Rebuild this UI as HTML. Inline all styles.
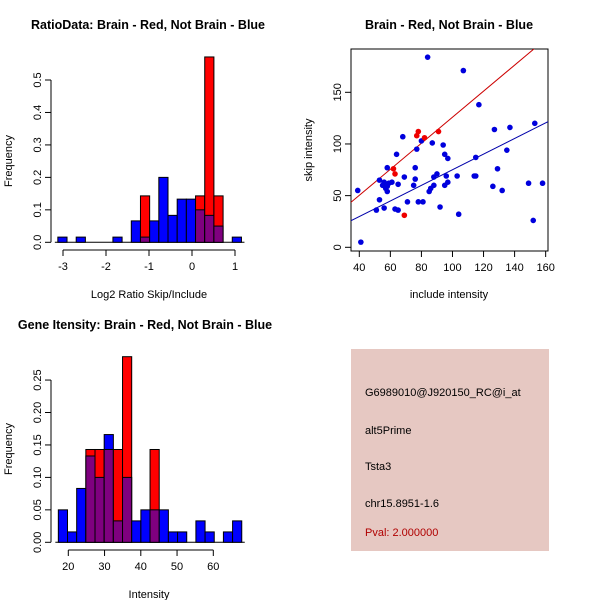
<!DOCTYPE html>
<html><head><meta charset="utf-8"><style>
body{margin:0;background:#fff}
svg{display:block;font-family:"Liberation Sans",Arial,sans-serif}
</style></head><body>
<svg id="s" width="600" height="600" xmlns="http://www.w3.org/2000/svg">
<rect width="600" height="600" fill="#fff"/>
<text x="148" y="29" text-anchor="middle" font-size="12.5" font-weight="bold">RatioData: Brain - Red, Not Brain - Blue</text>
<text x="449" y="29" text-anchor="middle" font-size="12.5" font-weight="bold">Brain - Red, Not Brain - Blue</text>
<text x="145" y="329" text-anchor="middle" font-size="12.5" font-weight="bold">Gene Itensity: Brain - Red, Not Brain - Blue</text>
<text x="149" y="298" text-anchor="middle" font-size="11">Log2 Ratio Skip/Include</text>
<text transform="translate(12,161) rotate(-90)" text-anchor="middle" font-size="11">Frequency</text>
<text x="449" y="298" text-anchor="middle" font-size="11">include intensity</text>
<text transform="translate(312,150) rotate(-90)" text-anchor="middle" font-size="11">skip intensity</text>
<text x="149" y="598" text-anchor="middle" font-size="11">Intensity</text>
<text transform="translate(12,449) rotate(-90)" text-anchor="middle" font-size="11">Frequency</text>
<g>
<rect x="351" y="349" width="198" height="202" fill="#e6c8c2"/>
<text x="365" y="396" font-size="11">G6989010@J920150_RC@i_at</text>
<text x="365" y="434" font-size="11">alt5Prime</text>
<text x="365" y="470" font-size="11">Tsta3</text>
<text x="365" y="507" font-size="11">chr15.8951-1.6</text>
<text x="365" y="536" font-size="11" fill="#b00000">Pval: 2.000000</text>
</g>
<g id="h1"></g><g id="h2"></g><g id="sc"></g>
</svg>
<script>
// Ratio histogram
const ratioBinStart = -3.12, ratioBinWidth = 0.2135;
const ratioBlue = [0.016,0,0.016,0,0,0,0.016,0,0.066,0.016,0.066,0.2,0.083,0.133,0.133,0.1,0.083,0.05,0,0.016];
const ratioRed  = [0,0,0,0,0,0,0,0,0,0.143,0,0,0,0,0,0.143,0.571,0.143,0,0];
const ratioXTicks = [-3,-2,-1,0,1];
const ratioYTicks = [0,0.1,0.2,0.3,0.4,0.5];
// Intensity histogram
const intBinStart = 17.25, intBinWidth = 2.53;
const intBlue = [0.05,0.016,0.083,0.133,0.1,0.166,0.033,0.1,0.033,0.05,0.05,0.05,0.016,0.016,0,0.033,0.016,0,0.016,0.033];
const intRed  = [0,0,0,0.143,0.143,0.143,0.143,0.286,0,0,0.143,0,0,0,0,0,0,0,0,0];
const intXTicks = [20,30,40,50,60];
const intYTicks = [0,0.05,0.10,0.15,0.20,0.25];
const intYLabels = ["0.00","0.05","0.10","0.15","0.20","0.25"];
// Scatter
const blueX = [39,41,51,53,53,55,56,56,57,58,58,58,59,61,63,65,64,65,68,69,71,75,76,76,77,78,80,81,85,86,87,88,88,90,92,94,95,95,96,97,97,103,104,107,84,114,115,115,117,126,127,129,132,135,137,149,152,153,158];
const blueY = [55,5,36,46,65,60,63,38,57,59,54,77,62,63,37,36,90,61,107,68,44,60,66,77,95,44,103,44,54,57,101,60,68,71,39,99,90,60,69,86,63,69,32,171,184,69,69,87,138,59,114,76,55,94,116,62,26,120,62];
const redX = [62,63,69,77,78,82,91];
const redY = [76,71,31,108,112,106,112];
const fitIntercept = [-0.1,-0.5];
const fitSlope = [1.26,0.756];
const scXTicks = [40,60,80,100,120,140,160];
const scYTicks = [0,50,100,150];

const NS="http://www.w3.org/2000/svg";
function mk(p,t,a){const e=document.createElementNS(NS,t);for(const k in a)e.setAttribute(k,a[k]);p.appendChild(e);return e;}

function hist(g,x0,y0,pxU,pyU,start,w,blue,red,xt,yt,yl,axisY,axisX,ax0,ax1){
  const X=v=>x0+(v-ax0)*pxU, Y=v=>y0-v*pyU;
  mk(g,'line',{x1:X(start)-3,x2:X(start+w*blue.length)+3,y1:y0,y2:y0,stroke:'#000'});
  for(let i=0;i<blue.length;i++){
    const b=blue[i],r=red[i],xa=X(start+i*w),xb=X(start+(i+1)*w);
    const hi=Math.max(b,r),lo=Math.min(b,r);
    if(hi>0){
      const e=mk(g,'rect',{x:xa,y:Y(hi),width:xb-xa,height:y0-Y(hi),fill:b>=r?'#0000ff':'#ff0000',stroke:'#000','stroke-width':1});
      
      
    }
    if(lo>0){
      const e=mk(g,'rect',{x:xa,y:Y(lo),width:xb-xa,height:y0-Y(lo),fill:'#7f007f',stroke:'#000','stroke-width':1});
      
      
    }
  }
  mk(g,'line',{x1:axisY,x2:axisY,y1:Y(yt[0]),y2:Y(yt[yt.length-1]),stroke:'#000'});
  yt.forEach((v,i)=>{mk(g,'line',{x1:axisY-6,x2:axisY,y1:Y(v),y2:Y(v),stroke:'#000'});
    const t=mk(g,'text',{transform:`translate(${axisY-10},${Y(v)}) rotate(-90)`,'text-anchor':'middle','font-size':11});t.textContent=yl[i];});
  mk(g,'line',{x1:X(xt[0]),x2:X(xt[xt.length-1]),y1:axisX,y2:axisX,stroke:'#000'});
  xt.forEach(v=>{mk(g,'line',{x1:X(v),x2:X(v),y1:axisX,y2:axisX+6,stroke:'#000'});
    const t=mk(g,'text',{x:X(v),y:axisX+20,'text-anchor':'middle','font-size':11});t.textContent=String(v).replace('-','\u2212').replace('\u2212','-');});
}
hist(document.getElementById('h1'),63,242.3,43,324.6,ratioBinStart,ratioBinWidth,ratioBlue,ratioRed,ratioXTicks,ratioYTicks,ratioYTicks.map(String).map(s=>s==='0'?'0.0':s),51,250,-3,1);
hist(document.getElementById('h2'),68.3,542.3,3.625,649,intBinStart,intBinWidth,intBlue,intRed,intXTicks,intYTicks,intYLabels,51,550,20,60);

(function(){
  const g=document.getElementById('sc');
  const X=v=>359.3+(v-40)*1.553, Y=v=>247.3-v*1.0333;
  const L=351,R=548,T=49,B=251;
  mk(g,'rect',{x:L,y:T,width:R-L,height:B-T,fill:'none',stroke:'#000'});
  const cp=mk(g,'clipPath',{id:'cp'});mk(cp,'rect',{x:L,y:T,width:R-L,height:B-T});
  const colors=['#cc0000','#0000aa'];
  for(let i=0;i<fitSlope.length;i++){
    const xa=30,xb=170;
    const e=mk(g,'line',{x1:X(xa),y1:Y(fitIntercept[i]+fitSlope[i]*xa),x2:X(xb),y2:Y(fitIntercept[i]+fitSlope[i]*xb),stroke:colors[i],'stroke-width':1,'clip-path':'url(#cp)'});
    
    
  }
  blueX.forEach((v,i)=>{const e=mk(g,'circle',{cx:X(v),cy:Y(blueY[i]),r:2.8,fill:'#0000dd'});
    
    });
  redX.forEach((v,i)=>{const e=mk(g,'circle',{cx:X(v),cy:Y(redY[i]),r:2.8,fill:'#ee0000'});
    
    });
  scXTicks.forEach(v=>{mk(g,'line',{x1:X(v),x2:X(v),y1:B,y2:B+6,stroke:'#000'});
    const t=mk(g,'text',{x:X(v),y:B+20,'text-anchor':'middle','font-size':11});t.textContent=v;});
  scYTicks.forEach(v=>{mk(g,'line',{x1:L-6,x2:L,y1:Y(v),y2:Y(v),stroke:'#000'});
    const t=mk(g,'text',{transform:`translate(${L-10},${Y(v)}) rotate(-90)`,'text-anchor':'middle','font-size':11});t.textContent=v;});
})();
</script>
</body></html>
